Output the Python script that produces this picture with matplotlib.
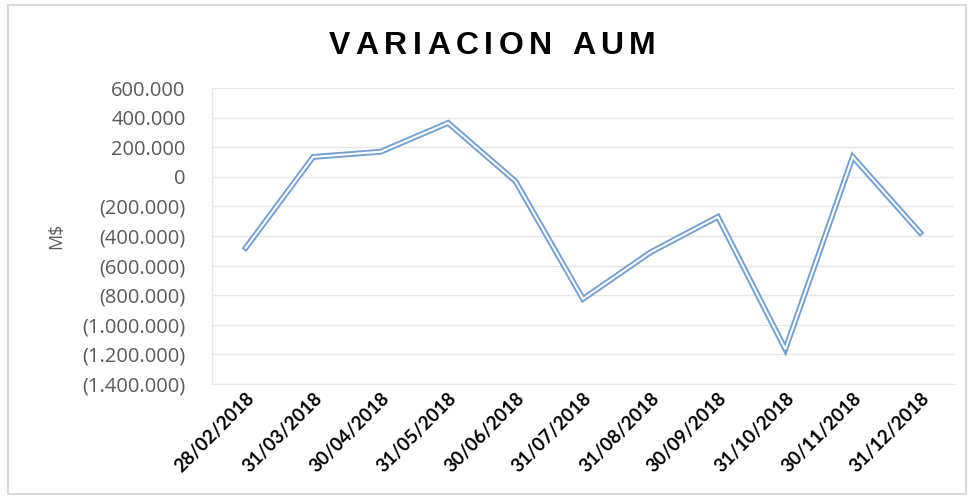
import matplotlib
matplotlib.use("Agg")
import matplotlib.pyplot as plt
from matplotlib.patches import Rectangle
from matplotlib.ticker import FuncFormatter, MultipleLocator

dates = ["28/02/2018", "31/03/2018", "30/04/2018", "31/05/2018", "30/06/2018",
         "31/07/2018", "31/08/2018", "30/09/2018", "31/10/2018", "30/11/2018",
         "31/12/2018"]
values = [-480000, 135000, 170000, 365000, -30000, -825000, -510000,
          -270000, -1165000, 135000, -378000]
title = "VARIACION AUM"
ylabel = "M$"

plt.rcParams["font.family"] = ["Open Sans", "DejaVu Sans"]

fig = plt.figure(figsize=(9.68, 4.98), dpi=100)
fig.patch.set_facecolor("white")
fig.add_artist(Rectangle((0.008, 0.008), 0.99, 0.982, transform=fig.transFigure,
                         fill=False, edgecolor="#D9D9D9", lw=1.5))

ax = fig.add_axes([0.219, 0.229, 0.7665, 0.594])
x = list(range(len(dates)))
ax.plot(x, values, color="#6F9FD3", lw=4.2, solid_joinstyle="miter", zorder=3)
ax.plot(x, values, color="white", lw=1.5, solid_joinstyle="miter", zorder=4)

ax.set_xlim(-0.5, len(dates) - 0.5)
ax.set_ylim(-1400000, 600000)
ax.yaxis.set_major_locator(MultipleLocator(200000))

def fmt(v, pos):
    s = "{:,.0f}".format(abs(v)).replace(",", ".")
    if v < 0:
        return "(" + s + ")"
    return s

ax.yaxis.set_major_formatter(FuncFormatter(fmt))
ax.grid(axis="y", color="#E6E6E6", lw=1)
ax.set_axisbelow(True)
for s in ["top", "right"]:
    ax.spines[s].set_visible(False)
ax.spines["left"].set_color("#E6E6E6")
ax.spines["bottom"].set_color("#E6E6E6")
ax.tick_params(axis="both", length=0)
ax.tick_params(axis="y", labelsize=14.5, labelcolor="#595959", pad=19)
ax.tick_params(axis="x", pad=4)
ax.set_xticks(x)
ax.set_xticklabels(dates, rotation=45, ha="right", rotation_mode="anchor",
                   fontsize=13.5, fontweight="bold", family="Lato", color="black")
ax.set_ylabel(ylabel, fontsize=13, color="#595959")
ax.yaxis.set_label_coords(-0.198, 0.5)

# title with letter spacing
fig.canvas.draw()
r = fig.canvas.get_renderer()
chars = list(title)
spacing = 5.5
widths = []
for c in chars:
    t = fig.text(0, 0, c if c != " " else "I", fontsize=23, fontweight="bold",
                 family="Liberation Sans")
    w = t.get_window_extent(r).width
    widths.append(w)
    t.remove()
total = sum(widths) + spacing * (len(chars) - 1)
xpix = 492 - total / 2
for c, w in zip(chars, widths):
    if c != " ":
        fig.text(xpix / 968, 1 - 54 / 498, c, fontsize=23, fontweight="bold",
                 family="Liberation Sans", color="black", ha="left", va="baseline")
    xpix += w + spacing

fig.savefig("out.png", dpi=100)
